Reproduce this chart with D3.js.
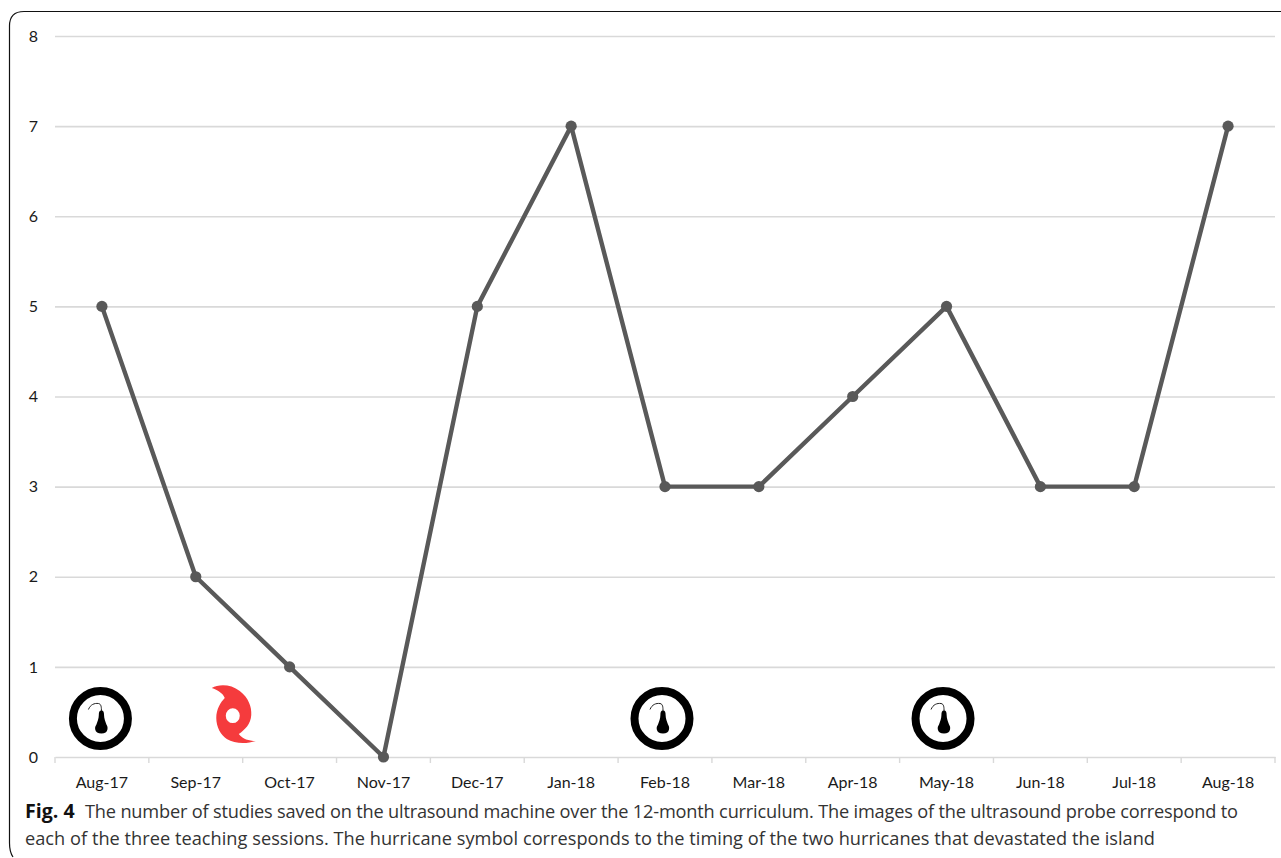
<!DOCTYPE html>
<html>
<head>
<meta charset="utf-8">
<script src="https://cdn.jsdelivr.net/npm/d3@7/dist/d3.min.js"></script>
<style>
  html, body { margin: 0; padding: 0; background: #fff; overflow: hidden; }
  svg { display: block; }
  .axis-label { font-family: Lato, "Open Sans", sans-serif; font-size: 16px; fill: #1a1a1a; }
  .caption { font-family: "Open Sans", "Noto Sans", sans-serif; font-size: 18.2px; fill: #333; }
  .caption.fig { font-weight: 700; font-size: 19.6px; fill: #111; }
</style>
</head>
<body>
<svg id="chart" width="1281" height="858"></svg>
<script>
// Monthly study counts saved on the ultrasound machine
const months = ["Aug-17","Sep-17","Oct-17","Nov-17","Dec-17","Jan-18","Feb-18","Mar-18","Apr-18","May-18","Jun-18","Jul-18","Aug-18"];
const studies = [5, 2, 1, 0, 5, 7, 3, 3, 4, 5, 3, 3, 7];
const yTicks = [0, 1, 2, 3, 4, 5, 6, 7, 8];
const teachingSessions = ["Aug-17", "Feb-18", "May-18"];
const hurricaneMonth = "Sep-17";
const captionBold = "Fig. 4";
const captionLines = [
  "The number of studies saved on the ultrasound machine over the 12-month curriculum. The images of the ultrasound probe correspond to",
  "each of the three teaching sessions. The hurricane symbol corresponds to the timing of the two hurricanes that devastated the island"
];

const svg = d3.select("#chart");
const x = d3.scaleBand().domain(months).range([55, 1275]);
const y = d3.scaleLinear().domain([0, 8]).range([757, 36]);
const cx = m => x(m) + x.bandwidth() / 2;
const gridColor = "#d9d9d9";
const lineColor = "#595959";

// Rounded article frame, open on the right and running off the bottom
svg.append("path")
  .attr("d", "M1281,11.5 H24 Q9.5,11.5 9.5,26 V843 Q9.5,852 13,857")
  .attr("fill", "none").attr("stroke", "#111").attr("stroke-width", 1.2);

// Horizontal gridlines and value labels
const yAxis = d3.axisLeft(y).tickValues(yTicks).tickSize(0).tickPadding(17).tickFormat(d3.format("d"));
const gy = svg.append("g").attr("transform", "translate(55,0)").call(yAxis);
gy.select(".domain").remove();
gy.selectAll("text").attr("class", "axis-label").attr("font-family", null).attr("font-size", null);
gy.selectAll("line").attr("x2", 1220).attr("stroke", gridColor).attr("stroke-width", 1.6);
gy.selectAll(".tick").filter(d => d === 0).select("line").remove();

// Category axis with ticks at the band edges
const xAxis = d3.axisBottom(x).tickSize(0).tickPadding(20);
const gx = svg.append("g").attr("transform", `translate(0,${y(0)})`).call(xAxis);
gx.select(".domain").attr("stroke", gridColor).attr("stroke-width", 1.6);
gx.selectAll("text").attr("class", "axis-label").attr("font-family", null).attr("font-size", null);
gx.selectAll("line").remove();
gx.selectAll("line.edge").data(d3.range(months.length + 1)).join("line")
  .attr("class", "edge")
  .attr("x1", i => 55 + i * x.bandwidth()).attr("x2", i => 55 + i * x.bandwidth())
  .attr("y1", 0).attr("y2", 6)
  .attr("stroke", gridColor).attr("stroke-width", 1.4);

// Ultrasound probe badges on the teaching-session months
const probeY = 718.5;
const probeShift = { "Aug-17": -1.5, "Feb-18": -3, "May-18": -3.5 };
const probe = svg.selectAll("g.probe").data(teachingSessions).join("g")
  .attr("class", "probe")
  .attr("transform", d => `translate(${cx(d) + probeShift[d]},${probeY})`);
probe.append("circle").attr("r", 27.5).attr("fill", "#fff").attr("stroke", "#000").attr("stroke-width", 8);
probe.append("path")
  .attr("d", "M-12,-9 C-10,-14 -6,-15.5 -2,-15 C1,-14.5 1,-11 1,-7")
  .attr("fill", "none").attr("stroke", "#222").attr("stroke-width", 1);
probe.append("path")
  .attr("d", "M1,-8 C3.2,-8 3.6,-6 3.6,-3.5 C3.6,0 5,3 6,6 C7,7.5 7.4,9 7,11 C6.6,13.5 4.5,15 1,15 C-2.5,15 -4.8,13.5 -5.2,11 C-5.6,9 -5,7.5 -4,6 C-3,3 -1.6,0 -1.6,-3.5 C-1.6,-6 -1.2,-8 1,-8 Z")
  .attr("fill", "#000");

// Hurricane symbol, set just after the start of its month
const hurricane = svg.append("g")
  .attr("transform", `translate(${cx(hurricaneMonth) + 37},715)`);
hurricane.append("path")
  .attr("fill", "#f53b3d")
  .attr("fill-rule", "evenodd")
  .attr("d", "M-21,-27 C-14,-31 -2,-31 7,-24 C16,-17 19,-8 18.5,0 C18,9 12,15 6,19 C10,24 16,26 23,26 C14,29 2,29 -6,24 C-12,20 -16.5,12 -16.5,3 C-16.5,-6 -12,-13 -8,-17 C-10,-22 -15,-25 -21,-27 Z M-7,0.7 A7,7.4 0 1 0 7,0.7 A7,7.4 0 1 0 -7,0.7 Z");

// Data line and markers
const line = d3.line().x((d, i) => cx(months[i])).y(d => y(d));
svg.append("path").datum(studies)
  .attr("d", line).attr("fill", "none")
  .attr("stroke", lineColor).attr("stroke-width", 4.4).attr("stroke-linejoin", "round");
svg.selectAll("circle.point").data(studies).join("circle")
  .attr("class", "point")
  .attr("cx", (d, i) => cx(months[i])).attr("cy", d => y(d))
  .attr("r", 5.6).attr("fill", lineColor);

// Figure caption, each line fitted to the text column
svg.append("text").attr("class", "caption fig").attr("x", 25).attr("y", 818).text(captionBold);
svg.append("text").attr("class", "caption").attr("x", 85).attr("y", 818)
  .attr("textLength", 1153).attr("lengthAdjust", "spacing").text(captionLines[0]);
svg.append("text").attr("class", "caption").attr("x", 25).attr("y", 845)
  .attr("textLength", 1130).attr("lengthAdjust", "spacing").text(captionLines[1]);
</script>
</body>
</html>
